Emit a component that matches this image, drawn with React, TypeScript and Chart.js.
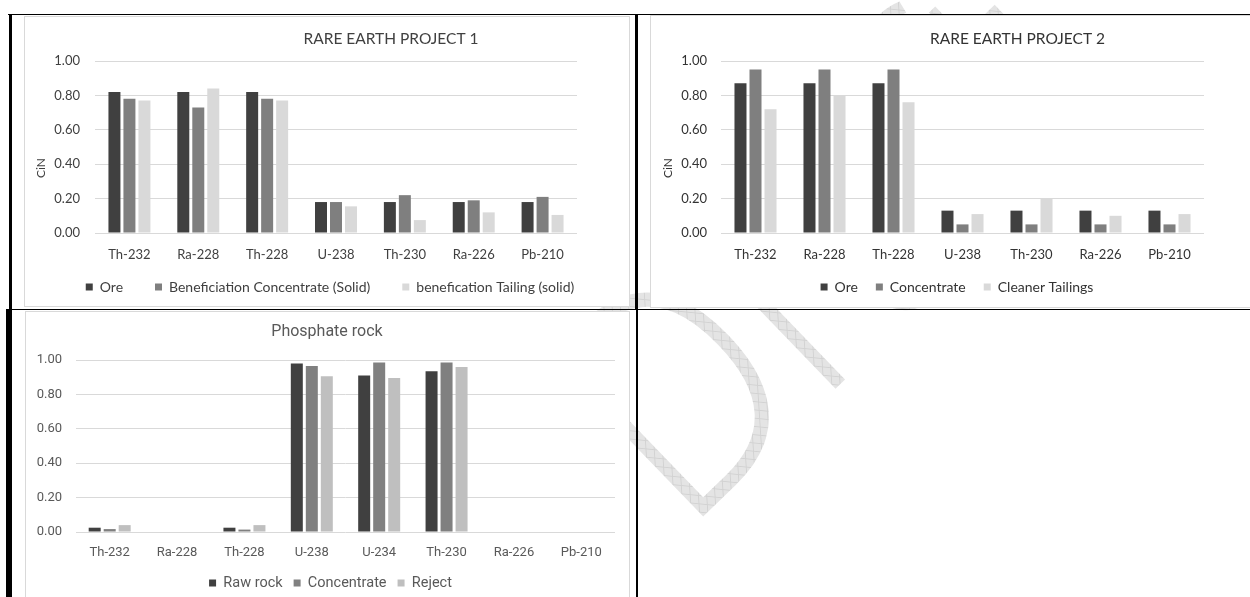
import React, { useEffect, useRef } from "react";
import { Chart, registerables } from "chart.js";

Chart.register(...registerables);

// ---------------- DATA ----------------
const nuclides7 = ["Th-232", "Ra-228", "Th-228", "U-238", "Th-230", "Ra-226", "Pb-210"];
const nuclides8 = ["Th-232", "Ra-228", "Th-228", "U-238", "U-234", "Th-230", "Ra-226", "Pb-210"];
const yTickLabels = ["0.00", "0.20", "0.40", "0.60", "0.80", "1.00"];

// Rare Earth Project 1
const p1Ore = [0.82, 0.82, 0.82, 0.18, 0.18, 0.18, 0.18];
const p1Concentrate = [0.78, 0.73, 0.78, 0.18, 0.22, 0.19, 0.21];
const p1Tailing = [0.77, 0.84, 0.77, 0.155, 0.075, 0.12, 0.105];

// Rare Earth Project 2
const p2Ore = [0.87, 0.87, 0.87, 0.13, 0.13, 0.13, 0.13];
const p2Concentrate = [0.95, 0.95, 0.95, 0.05, 0.05, 0.05, 0.05];
const p2CleanerTailings = [0.72, 0.8, 0.76, 0.11, 0.2, 0.1, 0.11];

// Phosphate rock
const phRawRock = [0.025, null, 0.025, 0.98, 0.91, 0.935, null, null];
const phConcentrate = [0.017, null, 0.014, 0.965, 0.985, 0.985, null, null];
const phReject = [0.04, null, 0.04, 0.905, 0.895, 0.96, null, null];

// ---------------- CHART ----------------
const textPlugin = {
  id: "customText",
  afterDraw(chart: any, _args: any, opts: any) {
    const ctx = chart.ctx;
    (opts.items || []).forEach((it: any) => {
      ctx.save();
      ctx.font = `${it.weight || "normal"} ${it.size}px ${it.family}`;
      ctx.fillStyle = it.color;
      ctx.textAlign = "center";
      ctx.textBaseline = "middle";
      ctx.translate(it.x, it.y);
      if (it.rotate) ctx.rotate(-Math.PI / 2);
      ctx.fillText(it.text, 0, 0);
      ctx.restore();
    });
  },
};

// moves the legend row to a fixed vertical position (Excel-like spacing)
const legendShiftPlugin = {
  id: "legendShift",
  beforeDraw(chart: any, _args: any, opts: any) {
    const lg = chart.legend;
    if (!lg || opts.top == null) return;
    lg.top = opts.top;
    lg.bottom = chart.height;
    lg.height = lg.bottom - lg.top;
  },
};

type Spec = {
  labels: string[];
  series: { label: string; data: (number | null)[]; color: string }[];
  width: number;
  height: number;
  area: { left: number; right: number; top: number; bottom: number };
  padLeft: number;
  tickPad: number;
  xLabelY: number;
  legendY: number;
  legendPad: number;
  legendSize: number;
  family: string;
  fontSize: number;
  textColor: string;
  catPct: number;
  barPct: number;
  texts: any[];
};

function BarChart({ spec }: { spec: Spec }) {
  const ref = useRef<HTMLCanvasElement>(null);
  useEffect(() => {
    const s = spec;
    const xH = s.xLabelY - s.area.bottom + 10;
    let legendH = s.height - s.area.bottom - xH;
    const natural = s.legendSize + s.legendPad + 10;
    let padBottom = 0;
    if (legendH > natural) {
      padBottom = legendH - natural;
      legendH = natural;
    }
    const legendTop = s.legendY - s.legendPad - s.legendSize / 2;
    const font = { family: s.family, size: s.fontSize };
    const xPad = s.xLabelY - s.area.bottom - (s.fontSize * 1.2) / 2 + 1;
    const chart = new Chart(ref.current as HTMLCanvasElement, {
      type: "bar",
      data: {
        labels: s.labels,
        datasets: s.series.map((d) => ({
          label: d.label,
          data: d.data,
          backgroundColor: d.color,
          borderWidth: 0,
          categoryPercentage: s.catPct,
          barPercentage: s.barPct,
        })),
      },
      options: {
        responsive: false,
        animation: false,
        devicePixelRatio: 1,
        layout: { padding: { left: s.padLeft, right: 0, top: s.area.top, bottom: padBottom } },
        scales: {
          x: {
            grid: { display: false, drawTicks: false },
            border: { display: false },
            ticks: { padding: xPad, color: s.textColor, font, maxRotation: 0, autoSkip: false },
            afterFit: (sc: any) => {
              sc.height = xH;
            },
          },
          y: {
            min: 0,
            max: 1,
            ticks: {
              stepSize: 0.2,
              padding: s.tickPad,
              color: s.textColor,
              font,
              callback: (_v: any, i: number) => yTickLabels[i],
            },
            grid: { color: "#d9d9d9", lineWidth: 1, drawTicks: false },
            border: { display: false },
            afterFit: (sc: any) => {
              sc.width = s.area.left - s.padLeft;
            },
          },
          yr: {
            position: "right",
            display: true,
            grid: { display: false, drawTicks: false },
            ticks: { display: false },
            border: { display: false },
            afterFit: (sc: any) => {
              sc.width = s.width - s.area.right;
            },
          },
        },
        plugins: {
          legend: {
            position: "bottom",
            maxHeight: legendH,
            labels: {
              boxWidth: 7,
              boxHeight: 7,
              padding: s.legendPad,
              color: s.textColor,
              font: { family: s.family, size: s.legendSize },
            },
          },
          tooltip: { enabled: false },
          customText: { items: s.texts },
          legendShift: { top: legendTop },
        } as any,
      } as any,
      plugins: [textPlugin, legendShiftPlugin],
    });
    return () => chart.destroy();
  }, [spec]);
  return <canvas ref={ref} width={spec.width} height={spec.height} style={{ display: "block" }} />;
}

const CAL = "Lato, 'Open Sans', sans-serif";
const APT = "Roboto, 'Noto Sans', sans-serif";

const spec1: Spec = {
  labels: nuclides7,
  series: [
    { label: "Ore", data: p1Ore, color: "#404040" },
    { label: "Beneficiation Concentrate (Solid)", data: p1Concentrate, color: "#7f7f7f" },
    { label: "benefication Tailing (solid)", data: p1Tailing, color: "#d9d9d9" },
  ],
  width: 604,
  height: 289,
  area: { left: 70, right: 552, top: 44, bottom: 216 },
  padLeft: 6,
  tickPad: 15,
  xLabelY: 237,
  legendY: 270,
  legendPad: 32,
  legendSize: 14,
  family: CAL,
  fontSize: 13,
  textColor: "#404040",
  catPct: 0.653,
  barPct: 0.8,
  texts: [
    { text: "RARE EARTH PROJECT 1", x: 366, y: 22, size: 15.5, family: CAL, color: "#404040" },
    { text: "CiN", x: 16, y: 151, size: 12, family: CAL, color: "#404040", rotate: true },
  ],
};

const spec2: Spec = {
  labels: nuclides7,
  series: [
    { label: "Ore", data: p2Ore, color: "#404040" },
    { label: "Concentrate", data: p2Concentrate, color: "#7f7f7f" },
    { label: "Cleaner Tailings", data: p2CleanerTailings, color: "#d9d9d9" },
  ],
  width: 599,
  height: 291,
  area: { left: 70, right: 553, top: 45, bottom: 217 },
  padLeft: 13,
  tickPad: 14,
  xLabelY: 238,
  legendY: 271,
  legendPad: 18,
  legendSize: 14,
  family: CAL,
  fontSize: 13,
  textColor: "#333333",
  catPct: 0.653,
  barPct: 0.8,
  texts: [
    { text: "RARE EARTH PROJECT 2", x: 366.5, y: 23, size: 15.5, family: CAL, color: "#333333" },
    { text: "CiN", x: 17, y: 152, size: 12, family: CAL, color: "#333333", rotate: true },
  ],
};

const spec3: Spec = {
  labels: nuclides8,
  series: [
    { label: "Raw rock", data: phRawRock, color: "#404040" },
    { label: "Concentrate", data: phConcentrate, color: "#808080" },
    { label: "Reject", data: phReject, color: "#bfbfbf" },
  ],
  width: 603,
  height: 285,
  area: { left: 50, right: 589, top: 48, bottom: 220 },
  padLeft: 6,
  tickPad: 14,
  xLabelY: 239.5,
  legendY: 271,
  legendPad: 11,
  legendSize: 14.5,
  family: APT,
  fontSize: 13,
  textColor: "#595959",
  catPct: 0.668,
  barPct: 0.8,
  texts: [{ text: "Phosphate rock", x: 301, y: 20, size: 16, family: APT, color: "#595959" }],
};

const abs = (l: number, t: number, w: number, h: number, extra: any = {}) => ({
  position: "absolute" as const,
  left: l,
  top: t,
  width: w,
  height: h,
  ...extra,
});

export default function App() {
  return (
    <div style={abs(0, 0, 1250, 597, { overflow: "hidden", background: "#fff" })}>
      {/* watermark */}
      <svg style={abs(0, 0, 1250, 597, { zIndex: 0 })} width={1250} height={597}>
        <defs>
          <pattern id="hatch" width="9" height="9" patternUnits="userSpaceOnUse" patternTransform="rotate(45)">
            <rect width="9" height="9" fill="#e4e4e4" />
            <path d="M0 0.5 H9 M0.5 0 V9" stroke="#d2d2d2" strokeWidth="1" />
          </pattern>
        </defs>
        <g transform="translate(684 535) rotate(-44) scale(0.85 1)">
          <text x={0} y={0} fontFamily="'Open Sans', sans-serif" fontWeight={300} fontSize={312} fill="url(#hatch)">
            Draft
          </text>
        </g>
      </svg>
      {/* chart boxes */}
      <div style={abs(24, 16, 604, 289, { border: "1px solid #d9d9d9", background: "#fff", zIndex: 1 })}>
        <BarChart spec={spec1} />
      </div>
      <div
        style={abs(650, 15, 599, 291, {
          borderLeft: "1px solid #d9d9d9",
          borderTop: "1px solid #d9d9d9",
          borderBottom: "1px solid #d9d9d9",
          background: "#fff",
          zIndex: 1,
        })}
      >
        <BarChart spec={spec2} />
      </div>
      <div
        style={abs(25, 311, 603, 286, {
          borderLeft: "1px solid #d9d9d9",
          borderTop: "1px solid #d9d9d9",
          borderRight: "1px solid #d9d9d9",
          background: "#fff",
          zIndex: 1,
        })}
      >
        <BarChart spec={spec3} />
      </div>
      {/* table borders */}
      <div style={abs(8, 14, 1242, 1, { background: "#000", zIndex: 2 })} />
      <div style={abs(8, 309, 1242, 1, { background: "#000", zIndex: 2 })} />
      <div style={abs(9, 14, 3, 296, { background: "#000", zIndex: 2 })} />
      <div style={abs(6, 309, 6, 288, { background: "#000", zIndex: 2 })} />
      <div style={abs(635, 14, 3, 296, { background: "#000", zIndex: 2 })} />
      <div style={abs(636, 309, 2, 288, { background: "#000", zIndex: 2 })} />
    </div>
  );
}
